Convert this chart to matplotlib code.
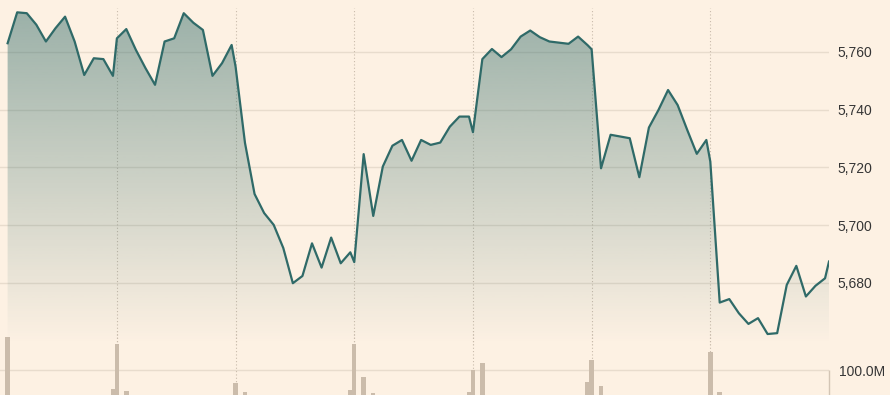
import numpy as np
import matplotlib.pyplot as plt
from matplotlib.colors import to_rgb

# each trading day: 12 intraday points + the close
day_start = [-12, 0, 12, 24, 36, 48, 60]
slots = list(np.linspace(0.95, 11.6, 12)) + [12]

day1 = [5763.0, 5773.7, 5773.4, 5769.4, 5763.6, 5768.2, 5772.2, 5763.6, 5752.0, 5757.8, 5757.5, 5751.7, 5764.7]
day2 = [5767.9, 5760.7, 5754.4, 5748.6, 5763.6, 5764.7, 5773.4, 5770.1, 5767.6, 5751.7, 5756.1, 5762.4, 5754.9]
day3 = [5728.5, 5710.8, 5704.2, 5700.1, 5692.1, 5679.9, 5682.4, 5693.7, 5685.3, 5695.7, 5686.8, 5690.6, 5687.2]
day4 = [5724.6, 5703.2, 5720.3, 5727.5, 5729.5, 5722.3, 5729.5, 5727.8, 5728.6, 5734.1, 5737.6, 5737.6, 5732.2]
day5 = [5757.5, 5761.0, 5758.2, 5760.9, 5765.3, 5767.4, 5765.1, 5763.6, 5763.2, 5762.8, 5765.3, 5762.3, 5760.9]
day6 = [5719.7, 5731.3, 5730.7, 5730.1, 5716.6, 5733.8, 5739.9, 5746.8, 5741.6, 5733.0, 5724.7, 5729.5, 5722.0]
day7 = [5673.2, 5674.4, 5669.5, 5665.8, 5667.8, 5662.3, 5662.6, 5679.3, 5685.9, 5675.3, 5679.0, 5681.6, 5687.4]

# volume (millions), only the bars that reach into view
vol_at = [0, 11, 12, 13, 25, 26, 37, 38, 39, 40, 50, 51, 52, 63, 64, 65, 77, 78]
vol = [182.5, 52.5, 165, 47.5, 67.5, 45, 50, 165, 82.5, 42.5, 45, 100, 117.5, 70, 125, 60, 145, 45]

price_ticks = [5680, 5700, 5720, 5740, 5760]

bg = '#fdf1e3'
line_c = '#2f6a68'
grid_c = '#e8dccd'
vgrid_c = '#c9bbab'
plt.rcParams['font.family'] = ['Liberation Sans', 'DejaVu Sans']

price = np.array(day1 + day2 + day3 + day4 + day5 + day6 + day7)
x = np.array([g + s for g in day_start for s in slots])

fig = plt.figure(figsize=(8.9, 3.95), dpi=100, facecolor=bg)
W = 829 / 890
axv = fig.add_axes([0, 0, W, 65 / 395])
ax = fig.add_axes([0, 1 - 345 / 395, W, 337 / 395])
for a in (ax, axv):
    a.patch.set_visible(False)
    for s in a.spines.values():
        s.set_visible(False)

xlim = (-11.82, 72)
ylim = (5658.5, 5775.2)

# price panel
ax.set_yticks(price_ticks)
ax.set_yticklabels(['{:,}'.format(v) for v in price_ticks])
ax.yaxis.tick_right()
ax.tick_params(axis='y', length=0, pad=6, labelsize=10, labelcolor='#353535')
ax.set_xticks([])
for v in price_ticks:
    ax.axhline(v, color=grid_c, lw=1, zorder=0)
for g in day_start[1:]:
    ax.axvline(g, color=vgrid_c, lw=0.8, ls=(0, (1, 2)), zorder=0)

poly = ax.fill_between(x, price, ylim[0], facecolor='none', edgecolor='none')
grad = np.zeros((256, 1, 4))
grad[..., :3] = to_rgb(line_c)
grad[..., 3] = np.linspace(0.48, 0.0, 256)[:, None]
im = ax.imshow(grad, extent=[xlim[0], xlim[1], ylim[0], ylim[1]], aspect='auto',
               origin='upper', zorder=1)
im.set_clip_path(poly.get_paths()[0], transform=ax.transData)
ax.plot(x, price, color=line_c, lw=1.6, solid_joinstyle='round', zorder=3)
ax.set_xlim(xlim)
ax.set_ylim(ylim)

# volume panel
axv.bar(x[vol_at], vol, width=0.45, color='#cbbcab', zorder=2)
axv.axhline(100, color=grid_c, lw=1, zorder=0)
for g in day_start[1:]:
    axv.axvline(g, color=vgrid_c, lw=0.8, ls=(0, (1, 2)), zorder=0)
axv.vlines(xlim[1], 0, 100, color='#d3c5b5', lw=1, clip_on=False)
axv.set_xlim(xlim)
axv.set_ylim(37.5, 200)
axv.set_xticks([])
axv.set_yticks([100])
axv.set_yticklabels(['100.0M'])
axv.yaxis.tick_right()
axv.tick_params(axis='y', length=0, pad=7, labelsize=10, labelcolor='#353535')

fig.savefig('out.png', dpi=100, facecolor=bg)
